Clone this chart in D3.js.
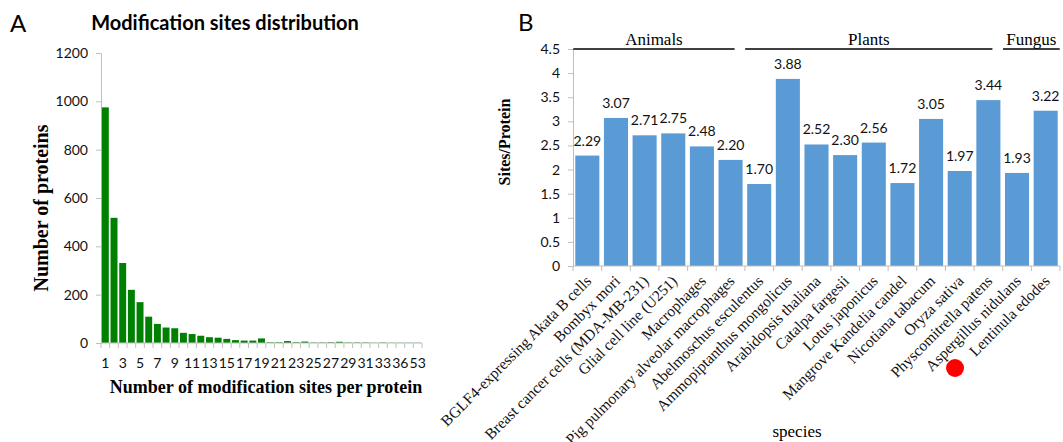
<!DOCTYPE html>
<html>
<head>
<meta charset="utf-8">
<script src="https://cdn.jsdelivr.net/npm/d3@7"></script>
<style>
  body { margin: 0; background: #fff; }
  svg { display: block; }
</style>
</head>
<body>
<svg width="1063" height="442"></svg>
<script>
// panel A: number of proteins by number of modification sites
const siteCounts = ['1','2','3','4','5','6','7','8','9','10','11','12','13','14','15','16','17','18','19','20',
  '21','22','23','24','25','26','27','28','29','30','31','32','33','34','36','38','53'];
const proteinCounts = [975, 518, 331, 220, 169, 109, 79, 64, 61, 42, 37, 30, 24, 22, 17, 12, 10, 10, 19, 3,
  3, 8, 3, 6, 2, 2, 3, 5, 2, 2, 2, 1, 2, 1, 1, 1, 1];
const countTicks = [0, 200, 400, 600, 800, 1000, 1200];

// panel B: sites per protein by species
const species = ['BGLF4-expressing Akata B cells', 'Bombyx mori', 'Breast cancer cells (MDA-MB-231)',
  'Glial cell line (U251)', 'Macrophages', 'Pig pulmonary alveolar macrophages', 'Abelmoschus esculentus',
  'Ammopiptanthus mongolicus', 'Arabidopsis thaliana', 'Catalpa fargesii', 'Lotus japonicus',
  'Mangrove Kandelia candel', 'Nicotiana tabacum', 'Oryza sativa', 'Physcomitrella patens',
  'Aspergillus nidulans', 'Lentinula edodes'];
const sitesPerProtein = [2.29, 3.07, 2.71, 2.75, 2.48, 2.20, 1.70, 3.88, 2.52, 2.30, 2.56, 1.72, 3.05, 1.97, 3.44, 1.93, 3.22];
const ratioTicks = [0, 0.5, 1, 1.5, 2, 2.5, 3, 3.5, 4, 4.5];
const groupNames = ['Animals', 'Plants', 'Fungus'];
const groupSizes = [6, 9, 2];

const svg = d3.select('svg');
const sans = 'Lato, "Open Sans", sans-serif';
const serif = '"Liberation Serif", "Times New Roman", serif';
const axisGrey = '#bfbfbf';

function styleAxis(g) {
  g.select('.domain').attr('stroke', axisGrey);
  g.selectAll('.tick line').attr('stroke', axisGrey);
  g.selectAll('.tick text').attr('fill', '#111').style('font-family', sans).style('font-size', '14px');
}

// ---------- panel A ----------
const xA = d3.scaleBand().domain(siteCounts).range([101, 422]).paddingInner(0.2).paddingOuter(0.1);
const yA = d3.scaleLinear().domain([0, 1200]).range([343, 53]);

svg.append('text').attr('x', 10).attr('y', 32)
  .style('font-family', sans).style('font-size', '24px').text('A');
svg.append('text').attr('x', 225).attr('y', 30).attr('text-anchor', 'middle')
  .style('font-family', sans).style('font-size', '20px').style('font-weight', 'bold')
  .text('Modification sites distribution');

svg.append('g')
  .attr('transform', 'translate(101,0)')
  .call(d3.axisLeft(yA).tickValues(countTicks).tickSize(5).tickPadding(8).tickFormat(d => String(d)))
  .call(styleAxis);

svg.append('g')
  .selectAll('rect')
  .data(proteinCounts)
  .join('rect')
    .attr('x', (d, i) => xA(siteCounts[i]))
    .attr('y', d => yA(d))
    .attr('width', xA.bandwidth())
    .attr('height', d => yA(0) - yA(d))
    .attr('fill', '#008000');

const gxA = svg.append('g')
  .attr('transform', 'translate(0,' + yA(0) + ')')
  .call(d3.axisBottom(xA).tickSize(0).tickPadding(15)
    .tickFormat((d, i) => i % 2 === 0 ? d : ''))
  .call(styleAxis);
gxA.select('.domain').attr('d', 'M' + xA.range()[0] + ',0H' + xA.range()[1]);

// tick marks between the categories
const stepA = (xA.range()[1] - xA.range()[0]) / siteCounts.length;
gxA.selectAll('.sep')
  .data(d3.range(siteCounts.length + 1))
  .join('line')
    .attr('class', 'sep')
    .attr('x1', i => xA.range()[0] + i * stepA)
    .attr('x2', i => xA.range()[0] + i * stepA)
    .attr('y1', 0).attr('y2', 5)
    .attr('stroke', axisGrey);

svg.append('text')
  .attr('transform', 'translate(48,' + 208 + ') rotate(-90)')
  .attr('text-anchor', 'middle')
  .style('font-family', serif).style('font-size', '20px').style('font-weight', 'bold')
  .text('Number of proteins');
svg.append('text').attr('x', 266).attr('y', 393).attr('text-anchor', 'middle')
  .style('font-family', serif).style('font-size', '18px').style('font-weight', 'bold')
  .text('Number of modification sites per protein');

// ---------- panel B ----------
const xB = d3.scaleBand().domain(species).range([573, 1060]).paddingInner(0.16).paddingOuter(0.08);
const yB = d3.scaleLinear().domain([0, 4.5]).range([266, 49]);

svg.append('text').attr('x', 518).attr('y', 31)
  .style('font-family', sans).style('font-size', '24px').text('B');

svg.append('g')
  .attr('transform', 'translate(573,0)')
  .call(d3.axisLeft(yB).tickValues(ratioTicks).tickSize(5).tickPadding(8).tickFormat(d => String(d)))
  .call(styleAxis);

svg.append('g')
  .selectAll('rect')
  .data(sitesPerProtein)
  .join('rect')
    .attr('x', (d, i) => xB(species[i]))
    .attr('y', d => yB(d))
    .attr('width', xB.bandwidth())
    .attr('height', d => yB(0) - yB(d))
    .attr('fill', '#5b9bd5');

svg.append('g')
  .selectAll('text')
  .data(sitesPerProtein)
  .join('text')
    .attr('x', (d, i) => xB(species[i]) + xB.bandwidth() / 2)
    .attr('y', d => yB(d) - 10)
    .attr('text-anchor', 'middle')
    .attr('fill', '#111')
    .style('font-family', sans).style('font-size', '14px')
    .text(d => d3.format('.2f')(d));

const gxB = svg.append('g').attr('transform', 'translate(0,' + yB(0) + ')');
gxB.append('line')
  .attr('x1', xB.range()[0]).attr('x2', xB.range()[1])
  .attr('stroke', axisGrey);
const stepB = (xB.range()[1] - xB.range()[0]) / species.length;
gxB.selectAll('.sep')
  .data(d3.range(species.length + 1))
  .join('line')
    .attr('x1', i => xB.range()[0] + i * stepB)
    .attr('x2', i => xB.range()[0] + i * stepB)
    .attr('y1', 0).attr('y2', 5)
    .attr('stroke', axisGrey);

gxB.selectAll('.cat')
  .data(species)
  .join('text')
    .attr('transform', d => 'translate(' + (xB(d) + xB.bandwidth() / 2 + 5) + ',16) rotate(-45)')
    .attr('text-anchor', 'end')
    .attr('fill', '#111')
    .style('font-family', serif).style('font-size', '15.5px')
    .text(d => d);

// group headers
let start = 0;
groupNames.forEach((name, gi) => {
  const first = species[start];
  const last = species[start + groupSizes[gi] - 1];
  const x0 = xB(first) - 2;
  const x1 = gi === groupNames.length - 1 ? xB(last) + xB.bandwidth() + 2 : xB(last) + xB.bandwidth() - 8;
  svg.append('line')
    .attr('x1', x0).attr('x2', x1)
    .attr('y1', yB(4.5)).attr('y2', yB(4.5))
    .attr('stroke', '#000').attr('stroke-width', 1.3);
  svg.append('text')
    .attr('x', (x0 + x1) / 2).attr('y', yB(4.5) - 4)
    .attr('text-anchor', 'middle')
    .style('font-family', serif).style('font-size', '17px')
    .text(name);
  start += groupSizes[gi];
});

svg.append('text')
  .attr('transform', 'translate(510,142) rotate(-90)')
  .attr('text-anchor', 'middle')
  .style('font-family', serif).style('font-size', '16px').style('font-weight', 'bold')
  .text('Sites/Protein');
svg.append('text').attr('x', 797).attr('y', 437).attr('text-anchor', 'middle')
  .style('font-family', serif).style('font-size', '17px')
  .text('species');

// red marker under the fungus labels
svg.append('circle')
  .attr('cx', xB(species[15]) + xB.bandwidth() / 2 - 62)
  .attr('cy', yB(0) + 102)
  .attr('r', 9)
  .attr('fill', '#ff0000');
</script>
</body>
</html>
